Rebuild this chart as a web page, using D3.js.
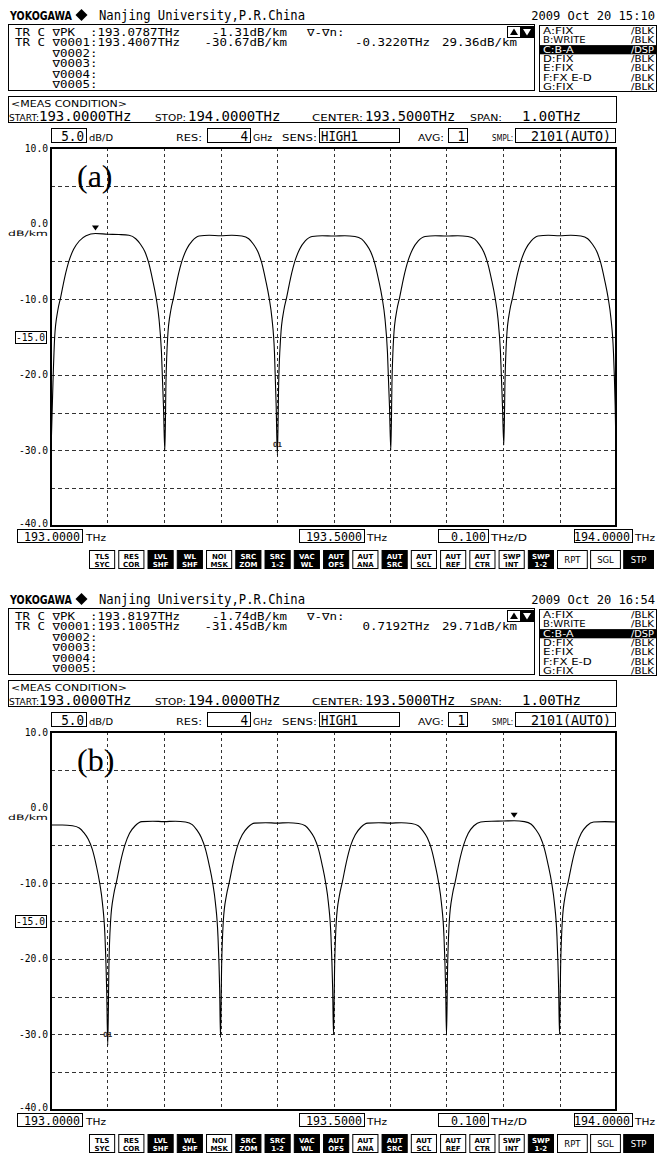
<!DOCTYPE html>
<html lang="en">
<head>
<meta charset="utf-8" />
<title>OSA traces</title>
<style>
    body { margin: 0; background: #fff; }
    svg { display: block; }
</style>
</head>
<body>
<script src="https://cdn.jsdelivr.net/npm/d3@7"></script>
<script>
// ---- data ----
var freqA = [193.0000,193.0035,193.0065,193.0120,193.0170,193.0240,193.0320,193.0400,193.0500,193.0620,193.0787,193.1000,193.1200,193.1380,193.1500,193.1580,193.1660,193.1730,193.1800,193.1860,193.1910,193.1955,193.1990,193.2015,
 193.2035,193.2065,193.2120,193.2170,193.2240,193.2320,193.2400,193.2500,193.2620,193.2800,193.3000,193.3200,193.3380,193.3500,193.3580,193.3660,193.3730,193.3800,193.3860,193.3910,193.3955,193.3985,193.4007,
 193.4030,193.4065,193.4120,193.4170,193.4240,193.4320,193.4400,193.4500,193.4620,193.4800,193.5000,193.5200,193.5380,193.5500,193.5580,193.5660,193.5730,193.5800,193.5860,193.5910,193.5955,193.5990,193.6015,
 193.6035,193.6065,193.6120,193.6170,193.6240,193.6320,193.6400,193.6500,193.6620,193.6800,193.7000,193.7200,193.7380,193.7500,193.7580,193.7660,193.7730,193.7800,193.7860,193.7910,193.7955,193.7990,193.8015,
 193.8035,193.8065,193.8120,193.8170,193.8240,193.8320,193.8400,193.8500,193.8620,193.8800,193.9000,193.9200,193.9380,193.9500,193.9580,193.9660,193.9730,193.9800,193.9860,193.9910,193.9955,193.9985,194.0000];
var dbA = [-30.2,-21,-15,-11.5,-9.8,-7.2,-4.9,-3.4,-2.3,-1.6,-1.31,-1.4,-1.45,-1.55,-2.0,-2.7,-3.7,-5.2,-7.5,-9.8,-12.5,-17,-24,-30.1,
 -21,-15,-11.5,-9.8,-7.2,-4.9,-3.4,-2.3,-1.65,-1.55,-1.6,-1.55,-1.65,-2.0,-2.7,-3.7,-5.2,-7.5,-9.8,-12.5,-17,-24,-30.67,
 -21,-15,-11.5,-9.8,-7.2,-4.9,-3.4,-2.3,-1.7,-1.6,-1.65,-1.6,-1.7,-2.05,-2.75,-3.75,-5.25,-7.5,-9.8,-12.5,-17,-24,-30.0,
 -21,-15,-11.5,-9.8,-7.2,-4.9,-3.4,-2.3,-1.7,-1.6,-1.65,-1.6,-1.7,-2.05,-2.75,-3.75,-5.25,-7.5,-9.8,-12.5,-17,-24,-29.3,
 -21,-15,-11.5,-9.8,-7.2,-4.9,-3.4,-2.3,-1.65,-1.55,-1.6,-1.55,-1.65,-2.0,-2.7,-3.7,-5.2,-7.5,-9.8,-12.5,-17,-24,-30.0];

var freqB = [193.0000,193.0200,193.0380,193.0500,193.0580,193.0660,193.0730,193.0800,193.0860,193.0910,193.0955,193.0985,193.1005,
 193.1025,193.1055,193.1110,193.1160,193.1230,193.1310,193.1390,193.1490,193.1610,193.1800,193.2000,193.2200,193.2380,193.2500,193.2580,193.2660,193.2730,193.2800,193.2860,193.2910,193.2955,193.2985,193.3000,
 193.3020,193.3050,193.3105,193.3155,193.3225,193.3305,193.3385,193.3485,193.3605,193.3800,193.4000,193.4200,193.4380,193.4500,193.4580,193.4660,193.4730,193.4800,193.4860,193.4910,193.4955,193.4985,193.5000,
 193.5020,193.5050,193.5105,193.5155,193.5225,193.5305,193.5385,193.5485,193.5605,193.5800,193.6000,193.6200,193.6380,193.6500,193.6580,193.6660,193.6730,193.6800,193.6860,193.6910,193.6955,193.6985,193.7000,
 193.7020,193.7050,193.7105,193.7155,193.7225,193.7305,193.7385,193.7485,193.7605,193.7800,193.8000,193.8197,193.8380,193.8500,193.8580,193.8660,193.8730,193.8800,193.8860,193.8910,193.8955,193.8985,193.9000,
 193.9020,193.9050,193.9105,193.9155,193.9225,193.9305,193.9385,193.9485,193.9605,193.9800,194.0000];
var dbB = [-2.3,-2.3,-2.4,-2.7,-3.3,-4.2,-5.5,-7.6,-9.9,-12.6,-17,-24,-31.45,
 -21,-15,-11.5,-9.8,-7.2,-4.9,-3.4,-2.4,-1.85,-1.8,-1.85,-1.8,-1.9,-2.25,-2.95,-3.95,-5.4,-7.6,-9.9,-12.6,-17,-24,-30.4,
 -21,-15,-11.6,-9.9,-7.3,-5.0,-3.6,-2.6,-2.05,-2.0,-2.05,-2.0,-2.1,-2.4,-3.05,-4.0,-5.4,-7.6,-9.9,-12.6,-17,-24,-30.0,
 -21,-15,-11.6,-9.9,-7.3,-5.0,-3.6,-2.6,-2.05,-2.0,-2.05,-2.0,-2.1,-2.4,-3.05,-4.0,-5.4,-7.6,-9.9,-12.6,-17,-24,-30.1,
 -21,-15,-11.5,-9.8,-7.2,-4.9,-3.4,-2.4,-1.9,-1.8,-1.78,-1.74,-1.85,-2.2,-2.9,-3.9,-5.35,-7.6,-9.9,-12.6,-17,-24,-30.0,
 -21,-15,-11.5,-9.8,-7.2,-4.9,-3.4,-2.4,-1.9,-1.85,-1.9];

// markers: [freq, dB]
var peakA = [193.0787, -1.31], markA = [193.4007, -30.67];
var peakB = [193.8197, -1.74], markB = [193.1005, -31.45];

// header texts
var dateA = "2009 Oct 20 15:10", dateB = "2009 Oct 20 16:54";
var readA = ["193.0787THz", "-1.31dB/km", "193.4007THz", "-30.67dB/km", "-0.3220THz", "29.36dB/km"];
var readB = ["193.8197THz", "-1.74dB/km", "193.1005THz", "-31.45dB/km", "0.7192THz", "29.71dB/km"];

var traceRows = [["A:FIX", "/BLK"], ["B:WRITE", "/BLK"], ["C:B-A", "/DSP"], ["D:FIX", "/BLK"], ["E:FIX", "/BLK"], ["F:FX E-D", "/BLK"], ["G:FIX", "/BLK"]];

var dbTicks = [10, 0, -10, -20, -30, -40];
var dbGrid = [5, -5, -10, -15, -20, -25, -30, -35];
var fGrid = [193.1, 193.2, 193.3, 193.4, 193.5, 193.6, 193.7, 193.8, 193.9];

var btnTop = ["TLS","RES","LVL","WL","NOI","SRC","SRC","VAC","AUT","AUT","AUT","AUT","AUT","AUT","SWP","SWP"];
var btnBot = ["SYC","COR","SHF","SHF","MSK","ZOM","1-2","WL","OFS","ANA","SRC","SCL","REF","CTR","INT","1-2"];
var btnDark = [0,0,1,1,0,1,1,1,1,0,1,0,0,0,0,1];
var runBtn = ["RPT", "SGL", "STP"], runDark = [0, 0, 1];

// ---- drawing ----
var MONO = "'DejaVu Sans Mono', monospace";
var SANS = "'DejaVu Sans', sans-serif";

var svg = d3.select("body").append("svg").attr("width", 661).attr("height", 1168);

function put(g, x, y, s, o) {
    o = o || {};
    var t = g.append("text").attr("x", x).attr("y", y).text(s)
        .attr("font-family", o.fam || MONO)
        .attr("font-size", o.size || 13)
        .attr("fill", o.fill || "#000")
        .attr("text-anchor", o.anchor || "start");
    if (o.weight) t.attr("font-weight", o.weight);
    if (o.len) t.attr("textLength", o.len).attr("lengthAdjust", "spacingAndGlyphs");
    return t;
}
function box(g, x, y, w, h, fill) {
    return g.append("rect").attr("x", x + 0.5).attr("y", y + 0.5).attr("width", w).attr("height", h)
        .attr("fill", fill || "none").attr("stroke", "#000").attr("stroke-width", 1);
}
// mono text with a fixed character pitch
function putM(g, x, y, s, pitch, o) {
    o = o || {};
    o.len = s.length * pitch;
    return put(g, x, y, s, o);
}

function panel(off, label, date, read, freq, db, peak, mark) {
    var g = svg.append("g").attr("transform", "translate(0," + off + ")");

    // title line
    put(g, 10, 20, "YOKOGAWA", { fam: SANS, size: 12, weight: "bold", len: 62 });
    g.append("path").attr("d", "M81.5,9L87.5,15L81.5,21L75.5,15Z").attr("fill", "#000");
    put(g, 99, 20, "Nanjing University,P.R.China", { size: 13.5, len: 206 });
    put(g, 655, 20, date, { size: 12.1, anchor: "end" });

    // marker box
    box(g, 8, 24, 526, 66);
    var p = 7.5, ms = 10.2, rows = [36, 46.4, 56.8, 67.2, 77.6, 88];
    var mo = function (a) { return { size: ms, anchor: a || "start" }; };
    putM(g, 15, rows[0], "TR C", p, mo()); putM(g, 52.5, rows[0], "\u2207PK", p, mo());
    putM(g, 90, rows[0], ":" + read[0], p, mo());
    putM(g, 287, rows[0], read[1], p, mo("end"));
    putM(g, 307, rows[0], "\u2207-\u2207n:", p, mo());
    putM(g, 15, rows[1], "TR C", p, mo()); putM(g, 52.5, rows[1], "\u22070001", p, mo());
    putM(g, 90, rows[1], ":" + read[2], p, mo());
    putM(g, 287, rows[1], read[3], p, mo("end"));
    putM(g, 430, rows[1], read[4], p, mo("end"));
    putM(g, 517, rows[1], read[5], p, mo("end"));
    ["\u22070002:", "\u22070003:", "\u22070004:", "\u22070005:"].forEach(function (s, i) {
        putM(g, 52.5, rows[i + 2], s, p, mo());
    });
    box(g, 507, 26, 13, 11); box(g, 520, 26, 13, 11, "#000");
    g.append("path").attr("d", "M514,28.5L518,35L510,35Z").attr("fill", "#000");
    g.append("path").attr("d", "M523,29L531,29L527,35.5Z").attr("fill", "#fff");

    // trace table
    box(g, 539, 25, 117, 66);
    traceRows.forEach(function (r, i) {
        var by = 34 + i * 9.3;
        var inv = r[1] === "/DSP";
        if (inv) g.append("rect").attr("x", 540).attr("y", by - 7.5).attr("width", 116).attr("height", 9.2).attr("fill", "#000");
        put(g, 543, by, r[0], { fam: SANS, size: 8, fill: inv ? "#fff" : "#000", len: r[0].length * 6.1 });
        put(g, 654, by, r[1], { fam: SANS, size: 8, fill: inv ? "#fff" : "#000", anchor: "end", len: 23 });
    });

    // measure condition
    box(g, 8, 96, 608, 26);
    put(g, 11, 106.5, "<MEAS CONDITION>", { fam: SANS, size: 9, len: 116 });
    put(g, 9, 121, "START:", { fam: SANS, size: 8.5, len: 30 });
    putM(g, 39, 121, "193.0000THz", 8.4, { size: 13.5 });
    put(g, 155, 121, "STOP:", { fam: SANS, size: 8.5, len: 31 });
    putM(g, 188, 121, "194.0000THz", 8.4, { size: 13.5 });
    put(g, 312, 121, "CENTER:", { fam: SANS, size: 8.5, len: 51 });
    putM(g, 365, 121, "193.5000THz", 8.2, { size: 13.5 });
    put(g, 470, 121, "SPAN:", { fam: SANS, size: 8.5, len: 32 });
    putM(g, 522, 121, "1.00THz", 8.4, { size: 13.5 });

    // settings row
    box(g, 51, 128, 35, 14);
    putM(g, 84, 141, "5.0", 7.6, { size: 13.5, anchor: "end" });
    put(g, 89, 140.5, "dB/D", { fam: SANS, size: 8.5, len: 24 });
    put(g, 176, 140.5, "RES:", { fam: SANS, size: 8.5, len: 26 });
    box(g, 207, 128, 43, 14);
    putM(g, 248, 141, "4", 7.6, { size: 13.5, anchor: "end" });
    put(g, 253, 140.5, "GHz", { fam: SANS, size: 8.5, len: 19 });
    put(g, 282, 140.5, "SENS:", { fam: SANS, size: 8.5, len: 35 });
    box(g, 319, 128, 80, 14);
    putM(g, 321, 141, "HIGH1", 7.4, { size: 13.5 });
    put(g, 418, 140.5, "AVG:", { fam: SANS, size: 8.5, len: 26 });
    box(g, 448, 128, 19, 14);
    putM(g, 465, 141, "1", 7.6, { size: 13.5, anchor: "end" });
    put(g, 492, 140.5, "SMPL:", { fam: SANS, size: 8.5, len: 21 });
    box(g, 515, 128, 100, 14);
    putM(g, 611, 141, "2101(AUTO)", 8.0, { size: 13.5, anchor: "end" });

    // plot
    var x = d3.scaleLinear().domain([193.0, 194.0]).range([51, 616]);
    var y = d3.scaleLinear().domain([-40, 10]).range([526, 148]);

    g.append("g").selectAll("line").data(dbGrid).join("line")
        .attr("x1", x(193.0)).attr("x2", x(194.0))
        .attr("y1", function (d) { return Math.round(y(d)) + 0.5; })
        .attr("y2", function (d) { return Math.round(y(d)) + 0.5; })
        .attr("stroke", "#333").attr("stroke-dasharray", "4,3");
    g.append("g").selectAll("line").data(fGrid).join("line")
        .attr("x1", function (d) { return Math.round(x(d)) + 0.5; })
        .attr("x2", function (d) { return Math.round(x(d)) + 0.5; })
        .attr("y1", y(10)).attr("y2", y(-40))
        .attr("stroke", "#333").attr("stroke-dasharray", "3,3");
    g.append("rect").attr("x", x(193.0)).attr("y", y(10))
        .attr("width", x(194.0) - x(193.0)).attr("height", y(-40) - y(10))
        .attr("fill", "none").attr("stroke", "#000").attr("stroke-width", 2);

    var line = d3.line().x(function (d) { return x(d[0]); }).y(function (d) { return y(d[1]); })
        .curve(d3.curveMonotoneX);
    g.append("path").datum(d3.zip(freq, db)).attr("d", line)
        .attr("fill", "none").attr("stroke", "#000").attr("stroke-width", 1.1);

    // peak marker and dip marker
    var px = x(peak[0]), py = y(peak[1]);
    g.append("path").attr("d", "M" + (px - 3.5) + "," + (py - 8) + "L" + (px + 3.5) + "," + (py - 8) + "L" + px + "," + (py - 3) + "Z")
        .attr("fill", "#000");
    put(g, x(mark[0]), y(mark[1]) - 8, "01", { fam: SANS, size: 7, weight: "bold", anchor: "middle", fill: "#333", len: 9 });

    // y labels
    dbTicks.forEach(function (d) {
        var s = d.toFixed(1);
        var yy = d === -40 ? y(d) + 1 : y(d) + 3.5;
        putM(g, 48, yy, s, 5.8, { size: 10, anchor: "end" });
    });
    put(g, 48, 236, "dB/km", { fam: SANS, size: 7.5, anchor: "end", len: 40 });
    box(g, 15, 331, 31, 12);
    putM(g, 45, y(-15) + 4, "-15.0", 5.8, { size: 10, anchor: "end" });

    // x labels
    box(g, 17, 529, 65, 13);
    putM(g, 80, 541, "193.0000", 7.0, { size: 12, anchor: "end" });
    put(g, 86, 540.5, "THz", { fam: SANS, size: 8, len: 20 });
    box(g, 299, 529, 65, 13);
    putM(g, 362, 541, "193.5000", 7.0, { size: 12, anchor: "end" });
    put(g, 367, 540.5, "THz", { fam: SANS, size: 8, len: 20 });
    box(g, 438, 529, 50, 13);
    putM(g, 486, 541, "0.100", 7.0, { size: 12, anchor: "end" });
    put(g, 491, 540.5, "THz/D", { fam: SANS, size: 8, len: 36 });
    box(g, 574, 529, 58, 13);
    putM(g, 630, 541, "194.0000", 7.0, { size: 12, anchor: "end" });
    put(g, 635, 540.5, "THz", { fam: SANS, size: 8, len: 20 });

    // soft keys
    var bx = d3.scaleBand().domain(d3.range(btnTop.length)).range([89, 553]).paddingInner(0.14);
    var keys = g.append("g").selectAll("g").data(d3.range(btnTop.length)).join("g")
        .attr("transform", function (i) { return "translate(" + bx(i) + ",550)"; });
    keys.append("rect").attr("x", 0.5).attr("y", 0.5).attr("width", bx.bandwidth()).attr("height", 18)
        .attr("fill", function (i) { return btnDark[i] ? "#000" : "#fff"; }).attr("stroke", "#000");
    keys.append("text").attr("x", bx.bandwidth() / 2 + 0.5).attr("y", 8.5)
        .attr("text-anchor", "middle").attr("font-family", SANS).attr("font-size", 7).attr("font-weight", "bold")
        .attr("fill", function (i) { return btnDark[i] ? "#fff" : "#000"; })
        .text(function (i) { return btnTop[i]; });
    keys.append("text").attr("x", bx.bandwidth() / 2 + 0.5).attr("y", 16.5)
        .attr("text-anchor", "middle").attr("font-family", SANS).attr("font-size", 7).attr("font-weight", "bold")
        .attr("fill", function (i) { return btnDark[i] ? "#fff" : "#000"; })
        .text(function (i) { return btnBot[i]; });

    var rx = d3.scaleBand().domain(d3.range(runBtn.length)).range([557, 653]).paddingInner(0.1);
    var run = g.append("g").selectAll("g").data(d3.range(runBtn.length)).join("g")
        .attr("transform", function (i) { return "translate(" + rx(i) + ",550)"; });
    run.append("rect").attr("x", 0.5).attr("y", 0.5).attr("width", rx.bandwidth()).attr("height", 18)
        .attr("fill", function (i) { return runDark[i] ? "#000" : "#fff"; }).attr("stroke", "#000");
    run.append("text").attr("x", rx.bandwidth() / 2 + 0.5).attr("y", 13)
        .attr("text-anchor", "middle").attr("font-family", SANS).attr("font-size", 8.5)
        .attr("fill", function (i) { return runDark[i] ? "#fff" : "#000"; })
        .text(function (i) { return runBtn[i]; });

    // panel label
    put(g, 77, 187, label, { fam: "'Liberation Serif', 'Times New Roman', serif", size: 32 });
}

panel(0, "(a)", dateA, readA, freqA, dbA, peakA, markA);
panel(584, "(b)", dateB, readB, freqB, dbB, peakB, markB);
</script>
</body>
</html>
